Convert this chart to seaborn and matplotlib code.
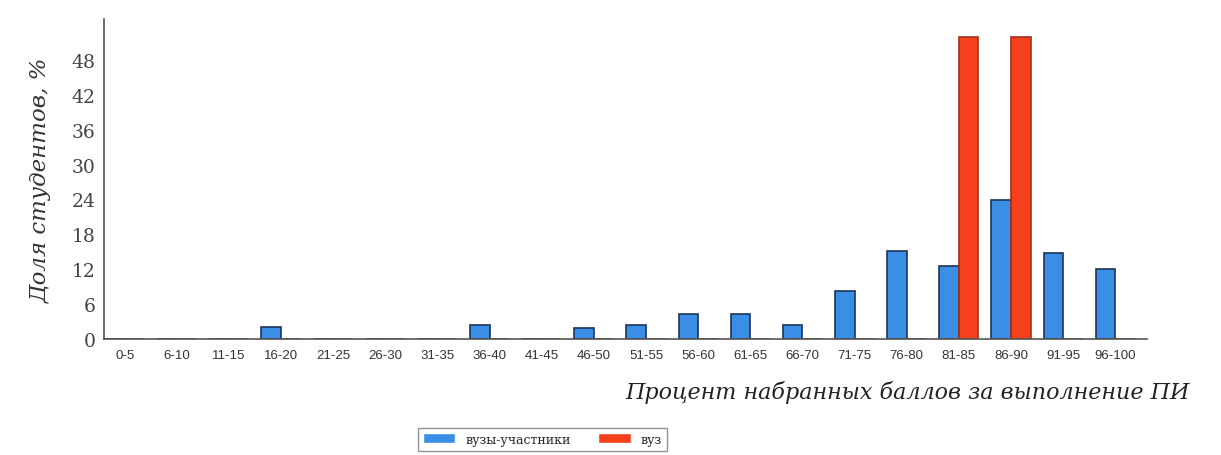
import pandas as pd
import matplotlib
matplotlib.use('Agg')
import matplotlib.pyplot as plt
import seaborn as sns

# Интервалы процента набранных баллов
ranges = ['0-5', '6-10', '11-15', '16-20', '21-25', '26-30', '31-35', '36-40',
          '41-45', '46-50', '51-55', '56-60', '61-65', '66-70', '71-75', '76-80',
          '81-85', '86-90', '91-95', '96-100']

# Доля студентов, %
vuzy_uchastniki = [0, 0, 0, 2.1, 0, 0, 0, 2.4, 0, 1.9, 2.4, 4.3, 4.3, 2.4,
                   8.3, 15.2, 12.6, 23.9, 14.8, 12.1]
vuz = [0, 0, 0, 0, 0, 0, 0, 0, 0, 0, 0, 0, 0, 0, 0, 0, 52, 52, 0, 0]

series_names = ['вузы-участники', 'вуз']
y_ticks = [0, 6, 12, 18, 24, 30, 36, 42, 48]

df = pd.DataFrame({
    'Интервал': ranges * 2,
    'Доля': vuzy_uchastniki + vuz,
    'Группа': [series_names[0]] * len(ranges) + [series_names[1]] * len(ranges),
})

sns.set_style('white')
plt.rcParams['font.family'] = ['DejaVu Serif']

fig = plt.figure(figsize=(12.21, 4.56), dpi=100)
ax = fig.add_axes([0.085, 0.254, 0.854, 0.702])

palette = {'вузы-участники': '#3a8ee6', 'вуз': '#f5401c'}
sns.barplot(data=df, x='Интервал', y='Доля', hue='Группа', palette=palette,
            width=0.75, saturation=1, ax=ax, legend=True)

# тёмные контуры столбиков
edge_colors = {'вузы-участники': '#1c3558', 'вуз': '#a3301a'}
for cont, name in zip(ax.containers, series_names):
    for bar in cont:
        bar.set_edgecolor(edge_colors[name])
        bar.set_linewidth(1.2)

handles, labels = ax.get_legend_handles_labels()
ax.get_legend().remove()

ax.set_xlim(-0.40, 19.6)
ax.set_ylim(0, 55)
ax.set_yticks(y_ticks)
ax.set_yticklabels([str(t) for t in y_ticks], fontsize=13.5, color='#444444',
                   family='DejaVu Serif')
ax.set_xticks(range(len(ranges)))
ax.set_xticklabels(ranges, fontsize=9.5, color='#333333', family='Liberation Sans')
ax.tick_params(axis='both', length=0, pad=6)
ax.tick_params(axis='x', pad=7)

for side in ['top', 'right']:
    ax.spines[side].set_visible(False)
for side in ['left', 'bottom']:
    ax.spines[side].set_color('#555555')
    ax.spines[side].set_linewidth(1.2)

ax.set_xlabel('')
ax.set_ylabel('Доля студентов, %', fontsize=16.5, style='italic', color='#333333',
              labelpad=14)

fig.text(0.512, 0.14, 'Процент набранных баллов за выполнение ПИ',
         fontsize=16, style='italic', color='#222222', va='center', ha='left')

fig.legend(handles, labels, loc='upper left', bbox_to_anchor=(0.337, 0.074),
           ncol=2, frameon=True, fancybox=False, edgecolor='#777777',
           columnspacing=2.2, handlelength=2.6, handleheight=0.9,
           borderpad=0.4, prop={'family': 'DejaVu Serif', 'size': 9})

fig.savefig('out.png', dpi=100, facecolor='white')
